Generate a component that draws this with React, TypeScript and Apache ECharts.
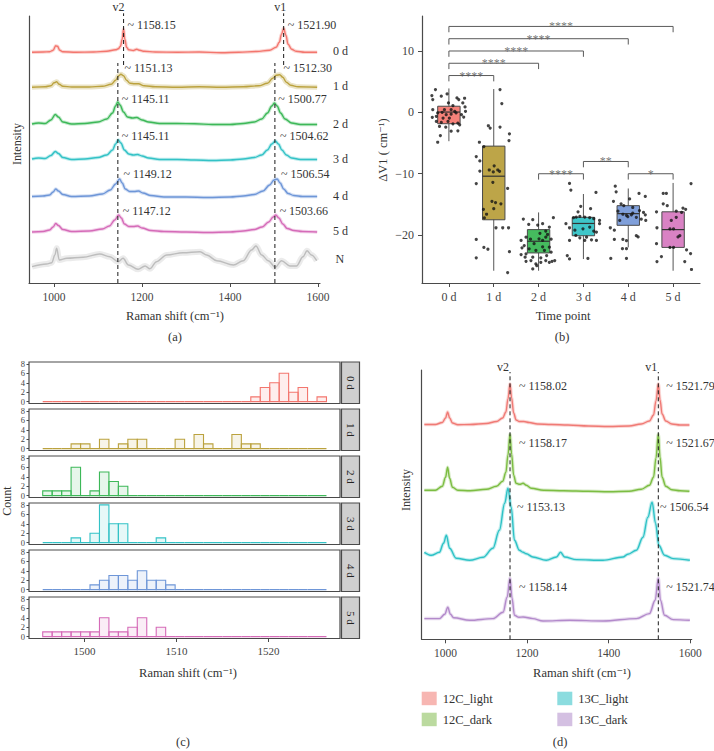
import React, { useEffect, useRef } from 'react';
import * as echarts from 'echarts';

const FONT = "'Liberation Serif', 'DejaVu Serif', 'Times New Roman', serif";
const INK = '#333333';
const AXIS = '#4a4a4a';

// ================= (a) mean Raman spectra per time point =================
const daysA = ['0 d', '1 d', '2 d', '3 d', '4 d', '5 d', 'N'];
const colorsA = ['#F3766E', '#BBA23E', '#3DB858', '#33C2C6', '#6E96D8', '#D56BB8', '#BDBDBD'];
const baselineA = [230.7, 195.7, 158, 123, 86, 51, 18];
const ticksA = [1000, 1200, 1400, 1600];

const spec0d = [[950,0],[975,0.3],[990,0.6],[998,2],[1004,6.5],[1008,6],[1013,2],[1020,0.5],[1050,0],[1090,0.3],[1120,1],[1140,2.5],[1146,3.5],[1151,6],[1155,13],[1158,23.5],[1161,13],[1165,5],[1170,2.5],[1180,1.8],[1188,3],[1195,2],[1205,1],[1230,0.3],[1280,0],[1330,0.3],[1380,-0.5],[1420,0],[1460,0.8],[1490,2],[1505,5],[1512,10],[1517,18],[1522,24],[1527,17],[1532,8],[1540,3],[1550,1],[1570,0],[1598,0]];
const spec1d = [[950,0],[980,0.5],[993,1.5],[1000,4.5],[1006,5.5],[1012,3],[1020,1],[1040,0.3],[1080,0.3],[1110,1],[1130,3],[1140,7],[1147,11.5],[1152,13],[1158,11.5],[1165,7],[1173,4],[1183,3.5],[1192,3.5],[1205,1.5],[1230,0.5],[1280,0],[1330,0.5],[1380,0],[1430,0.5],[1465,1.5],[1485,4],[1497,9],[1505,12],[1513,12.5],[1520,10],[1528,5],[1538,2],[1555,0.5],[1598,0]];
const spec2d = [[950,1],[965,2],[980,1.5],[993,5],[1003,10.5],[1010,8],[1020,3],[1040,1],[1070,1.5],[1100,3],[1120,6],[1133,12],[1140,19],[1145,23],[1150,20],[1158,13],[1167,8],[1178,7],[1188,7.5],[1200,5],[1215,3],[1240,1.5],[1280,1.5],[1320,1.2],[1360,0.5],[1400,0.5],[1430,1.5],[1455,3],[1472,6],[1485,12],[1495,19],[1501,22],[1507,19],[1515,12],[1525,6],[1540,2],[1560,0.5],[1598,0.5]];
const spec3d = [[950,1],[965,2],[980,1.5],[993,4.5],[1003,8.5],[1010,6.5],[1020,2.5],[1040,0.5],[1070,1],[1100,2.5],[1120,5],[1133,10],[1140,16],[1146,20],[1152,17],[1160,10],[1170,6],[1180,5],[1190,5.5],[1200,4],[1215,2],[1240,0.5],[1280,0.5],[1320,0],[1360,-0.5],[1400,0],[1430,1],[1455,2.5],[1472,5],[1485,10],[1495,16],[1503,19],[1510,16],[1518,10],[1528,5],[1540,2],[1560,0.5],[1598,0.5]];
const spec4d = [[950,0.5],[975,1],[990,2],[998,5],[1004,8],[1010,6],[1020,2.5],[1040,0.5],[1080,1],[1110,3],[1128,7],[1140,13],[1149,18],[1155,14],[1162,8],[1172,5.5],[1182,5.5],[1192,6],[1202,4],[1220,1.5],[1250,0],[1300,0],[1350,-0.5],[1400,0],[1430,1],[1455,2.5],[1475,6],[1490,12],[1500,17],[1507,18],[1514,14],[1522,8],[1532,3.5],[1545,1.5],[1565,0.5],[1598,0.5]];
const spec5d = [[950,0],[975,0.5],[990,2],[998,5],[1004,8.5],[1010,6.5],[1020,2.5],[1040,0.5],[1080,1],[1110,3],[1126,6],[1138,12],[1147,17],[1153,14],[1160,8],[1170,5.5],[1180,5.5],[1190,6],[1200,4],[1220,1.5],[1250,0.5],[1300,0],[1350,-0.5],[1400,0],[1430,1],[1455,2.5],[1473,5],[1488,10],[1498,15],[1504,17],[1511,14],[1520,8],[1530,3.5],[1545,1.5],[1565,0.5],[1598,0]];
const specN = [[950,-1.7],[983,1],[995,2.3],[1002,10],[1006,16.7],[1012,5],[1029,6.7],[1066,7.7],[1104,11],[1127,8.3],[1146,3.3],[1157,6.7],[1169,0],[1191,-4.3],[1207,-1],[1218,-3.7],[1233,3.3],[1256,10],[1293,12.3],[1332,13.3],[1347,10],[1370,4.3],[1408,0],[1430,4.3],[1449,15],[1459,19],[1472,10],[1487,4.3],[1503,-2.3],[1517,4.3],[1536,-1],[1551,-1],[1566,8.3],[1575,14.3],[1585,10],[1597,4.3]];
const specA = [spec0d, spec1d, spec2d, spec3d, spec4d, spec5d, specN];

const v2PeakA = [1158.15, 1151.13, 1145.11, 1145.11, 1149.12, 1147.12];
const v1PeakA = [1521.90, 1512.30, 1500.77, 1504.62, 1506.54, 1503.66];
const labelLevelA = [258, 215, 184, 147, 109, 72];

// ================= (b) ΔV1 by time point =================
const daysB = ['0 d', '1 d', '2 d', '3 d', '4 d', '5 d'];
const boxColorsB = ['#F7827A', '#BDA548', '#45BB5E', '#3FC6C9', '#7F9FDA', '#D982C4'];
// [lower whisker, Q1, median, Q3, upper whisker]
const boxStatsB = [
  [-4.7, -1.85, 0.05, 1.0, 3.9],
  [-25.8, -17.5, -10.4, -5.5, 3.8],
  [-25.8, -22.9, -21.0, -19.1, -16.3],
  [-23.9, -20.1, -18.1, -17.1, -13.3],
  [-22.0, -18.4, -16.5, -15.2, -12.4],
  [-25.8, -22.0, -19.1, -16.2, -11.5],
];
const ticksB = [-20, -10, 0, 10];
const jit0d = [[-0.30,3.72],[-0.38,2.74],[-0.17,2.63],[-0.36,2.08],[-0.04,3.01],[0.18,2.35],[0.35,2.30],[0.31,1.53],[-0.01,1.53],[0.09,1.10],[-0.10,0.44],[-0.36,0.44],[-0.37,-0.81],[-0.28,-1.47],[-0.17,-1.64],[-0.02,-1.47],[0.09,-1.86],[0.20,-1.75],[0.33,-0.76],[0.37,0.17],[0.36,0.88],[-0.21,-2.30],[-0.07,-2.41],[0.05,-3.06],[0.20,-3.00],[-0.19,-3.78],[-0.25,-4.87],[0.24,-2.03],[0.05,0.44],[0.13,0.17],[-0.06,-0.37],[-0.13,-0.92],[0.16,-0.10],[0.28,-0.37],[-0.28,-0.65],[0.01,-0.92],[0.22,2.08],[-0.25,-0.10],[-0.15,0.00],[0.05,-0.30]];
const jit1d = [[0.14,3.72],[0.18,1.43],[-0.12,-2.18],[-0.08,-2.56],[0.14,-2.40],[0.35,-3.50],[0.34,-4.60],[-0.32,-4.87],[-0.22,-5.57],[-0.39,-7.20],[-0.31,-7.92],[-0.31,-9.56],[-0.10,-9.39],[-0.01,-9.70],[0.09,-9.39],[0.13,-9.60],[0.01,-8.70],[-0.02,-11.40],[0.31,-12.40],[-0.04,-14.50],[0.04,-14.70],[0.16,-14.90],[0.00,-15.70],[-0.23,-15.80],[-0.16,-16.60],[-0.21,-17.20],[0.05,-18.80],[0.20,-18.80],[0.33,-18.80],[-0.39,-20.70],[-0.22,-22.00],[-0.13,-22.30],[0.35,-22.70],[-0.39,-23.70],[0.31,-26.10],[-0.39,-11.60]];
const jit2d = [[-0.34,-17.38],[-0.13,-17.48],[-0.22,-18.25],[-0.02,-18.36],[0.09,-18.14],[0.24,-18.69],[0.33,-17.16],[0.16,-19.34],[-0.39,-20.87],[-0.28,-20.33],[-0.18,-20.66],[0.01,-20.60],[0.16,-20.33],[-0.10,-21.40],[0.09,-20.87],[0.28,-20.66],[-0.37,-22.07],[-0.28,-23.05],[-0.21,-22.23],[-0.06,-22.50],[0.13,-22.50],[0.24,-21.97],[-0.39,-23.16],[-0.30,-23.60],[-0.13,-23.60],[0.05,-23.70],[0.18,-23.33],[0.28,-22.78],[-0.28,-24.26],[-0.17,-24.15],[-0.06,-24.70],[0.05,-24.43],[0.16,-24.15],[0.36,-24.15],[-0.13,-25.50],[-0.04,-24.97],[0.24,-24.43],[0.30,-24.26],[0.03,-19.70],[0.20,-19.90],[-0.32,-21.70],[0.09,-21.90]];
const jit3d = [[-0.31,-11.57],[-0.28,-12.66],[0.28,-13.05],[-0.06,-15.30],[-0.22,-17.16],[-0.16,-17.05],[-0.08,-16.94],[0.03,-17.05],[0.14,-17.16],[0.23,-17.32],[0.36,-17.60],[0.36,-18.14],[-0.39,-18.14],[-0.31,-18.80],[-0.19,-19.20],[-0.01,-18.97],[0.14,-18.69],[0.23,-19.34],[-0.31,-20.87],[-0.17,-20.05],[0.07,-20.33],[0.18,-20.77],[0.29,-20.87],[0.29,-19.50],[-0.36,-23.33],[-0.31,-23.87],[0.10,-23.80],[0.03,-20.87],[-0.08,-20.44],[-0.12,-16.20],[0.16,-15.70]];
const jit4d = [[-0.29,-12.02],[-0.27,-12.95],[0.24,-13.20],[0.38,-13.70],[0.03,-14.10],[-0.33,-14.50],[-0.16,-14.90],[-0.10,-15.20],[0.10,-15.50],[0.25,-16.00],[0.34,-16.30],[0.38,-16.70],[-0.23,-16.10],[-0.12,-16.60],[-0.04,-16.80],[0.07,-16.70],[0.18,-17.10],[0.29,-17.40],[0.39,-17.60],[-0.19,-17.60],[-0.40,-18.80],[-0.31,-19.20],[0.18,-20.10],[0.22,-20.30],[-0.12,-20.70],[-0.31,-20.70],[-0.04,-20.90],[-0.13,-22.20],[-0.04,-22.20],[-0.39,-23.80],[-0.04,-23.80],[0.10,-16.40],[-0.01,-17.00]];
const jit5d = [[-0.22,-13.20],[-0.15,-13.20],[-0.22,-14.90],[-0.13,-15.20],[0.22,-15.60],[-0.37,-16.20],[0.07,-16.10],[0.19,-16.30],[0.28,-15.80],[0.40,-11.60],[-0.04,-17.60],[0.07,-17.10],[-0.36,-18.80],[-0.07,-19.00],[0.01,-19.00],[0.15,-20.10],[0.11,-20.30],[-0.37,-21.40],[-0.07,-22.00],[0.01,-22.00],[0.30,-22.40],[0.39,-23.00],[-0.26,-23.50],[-0.36,-24.30],[0.26,-24.30],[0.41,-25.60]];
const jitB = [jit0d, jit1d, jit2d, jit3d, jit4d, jit5d];
// significance brackets: [group a, group b, height]
const sigPairsB = [[0, 1, 6], [0, 2, 8], [0, 3, 10], [0, 4, 12], [0, 5, 14], [2, 3, -10], [3, 4, -8], [4, 5, -10]];
const sigLabelsB = ['****', '****', '****', '****', '****', '****', '**', '*'];

// ================= (c) histograms of v1 position =================
const daysC = ['0 d', '1 d', '2 d', '3 d', '4 d', '5 d'];
const binStartC = 1495.47;
const binWidthC = 1.028;
const ticksC = [1500, 1510, 1520];
const countTicksC = [0, 2, 4, 6, 8];
const hist0d = [0,0,0,0,0,0,0,0,0,0, 0,0,0,0,0,0,0,0,0,0, 0,0,1,3,4,6,2,3,0,1];
const hist1d = [0,0,0,1,1,0,2,0,1,2, 2,0,0,0,2,0,3,1,0,0, 3,1,1,0,0,0,0,0,0,0];
const hist2d = [1,1,1,6,0,1,5,3,2,0, 0,0,0,0,0,0,0,0,0,0, 0,0,0,0,0,0,0,0,0,0];
const hist3d = [0,0,0,1,0,2,8,4,4,0, 0,0,1,0,0,0,0,0,0,0, 0,0,0,0,0,0,0,0,0,0];
const hist4d = [0,0,0,0,0,1,2,3,3,2, 4,2,2,1,0,0,0,0,0,0, 0,0,0,0,0,0,0,0,0,0];
const hist5d = [1,1,1,1,1,1,4,1,1,2, 4,0,2,0,0,0,0,0,0,0, 0,0,0,0,0,0,0,0,0,0];
const histC = [hist0d, hist1d, hist2d, hist3d, hist4d, hist5d];

// ================= (d) 12C / 13C light / dark spectra =================
const groupsD = ['12C_light', '12C_dark', '13C_light', '13C_dark'];
const colorsD = ['#F07A75', '#7CBD42', '#2DC2C6', '#B38ACB'];
const legendColorsD = ['#F7B6B2', '#BBDA9F', '#8BDCDF', '#D4C0E2'];
const baselineD = [214.3, 148, 79, 19];
const ticksD = [1000, 1200, 1400, 1600];
const spec12CL = [[948,0.5],[975,0.5],[992,2.5],[1000,7],[1005,13],[1010,7],[1017,2],[1030,0.3],[1060,0.5],[1100,1.5],[1125,3.5],[1140,7],[1148,13],[1153,26],[1158,41],[1162,27],[1167,12],[1173,5],[1181,3.5],[1192,3.5],[1205,2.5],[1225,1],[1260,0.5],[1300,0],[1350,-1],[1400,-1.5],[1450,-1],[1480,1],[1500,4],[1510,10],[1516,24],[1521.8,41],[1526,25],[1531,11],[1540,4],[1555,1],[1575,0],[1598,0]];
const spec12CD = [[948,1],[975,1],[992,5],[1000,14],[1005,24],[1010,13],[1017,4],[1030,1],[1060,0.5],[1100,2],[1125,5],[1140,10],[1148,19],[1153,36],[1158,57],[1162,37],[1167,16],[1173,8],[1182,7],[1190,8],[1198,6],[1210,3],[1240,1],[1290,0.5],[1350,0],[1400,-0.5],[1450,0],[1480,2],[1500,6],[1510,14],[1516,33],[1521.7,57],[1526,34],[1531,14],[1540,5],[1555,1.5],[1575,0.5],[1598,0]];
const spec13CL = [[948,8],[965,5],[985,8],[995,17],[1002,25],[1010,12],[1026,2],[1059,0],[1092,3],[1116,12],[1132,30],[1145,57],[1153,72],[1161,53],[1169,20],[1181,10],[1190,8],[1198,6.5],[1214,3.3],[1247,0],[1272,3.3],[1282,8],[1292,3.3],[1321,0.7],[1386,0],[1435,3.3],[1447,6],[1468,10],[1484,23],[1496,43],[1506.5,58],[1515,37],[1523,15],[1537,5],[1558,1.7],[1599,0]];
const spec13CD = [[948,1.7],[985,1.7],[998,6],[1005.5,13],[1012,6],[1020,2.5],[1059,0],[1116,1.7],[1141,8],[1151,23],[1158,42],[1163,22],[1169,5],[1180,3],[1190,3.3],[1214,1.7],[1239,-0.7],[1304,0],[1386,-0.7],[1468,1.7],[1500,6.7],[1514,20],[1521.7,42],[1527,20],[1537,5],[1558,0.7],[1599,0]];
const specD = [spec12CL, spec12CD, spec13CL, spec13CD];
const v2PeakD = [1158.02, 1158.17, 1153.13, 1158.14];
const v1PeakD = [1521.79, 1521.67, 1506.54, 1521.74];
const labelLevelD = [253.3, 196, 132.6, 52.6];

// ================= helpers =================
function hexA(hex: string, a: number) {
  const n = parseInt(hex.slice(1), 16);
  return `rgba(${(n >> 16) & 255},${(n >> 8) & 255},${n & 255},${a})`;
}

function txtStyle(text: string, size: number, color: string, align: string, vAlign = 'middle') {
  return {
    text, font: `${size}px ${FONT}`, fill: color, textFill: color,
    align, verticalAlign: vAlign, textAlign: align, textVerticalAlign: vAlign,
  };
}

function gText(x: number, y: number, text: string, size = 12, rot = 0, align = 'center', color = INK) {
  return { type: 'text', x, y, rotation: rot, silent: true, z: 20, style: txtStyle(text, size, color, align) };
}

type Lbl = { x: number; y: number; text: string; dx?: number; dy?: number; align?: string; size?: number };
function textSeries(ax: number, items: Lbl[], color = INK) {
  return {
    type: 'custom', xAxisIndex: ax, yAxisIndex: ax, clip: false, silent: true, z: 10,
    data: items.map((it) => [it.x, it.y]),
    renderItem: (params: any, api: any) => {
      const it = items[params.dataIndex];
      const p = api.coord([it.x, it.y]);
      return {
        type: 'text', x: p[0] + (it.dx || 0), y: p[1] + (it.dy || 0),
        style: txtStyle(it.text, it.size || 12, color, it.align || 'left'),
      };
    },
  };
}

function dashSeries(ax: number, segs: number[][]) {
  return {
    type: 'custom', xAxisIndex: ax, yAxisIndex: ax, clip: false, silent: true, z: 6,
    data: segs,
    renderItem: (params: any, api: any) => {
      const s = segs[params.dataIndex];
      const a = api.coord([s[0], s[1]]);
      const b = api.coord([s[0], s[2]]);
      return { type: 'line', shape: { x1: a[0], y1: a[1], x2: b[0], y2: b[1] }, style: { stroke: '#1a1a1a', lineWidth: 1, lineDash: [4, 3] } };
    },
  };
}

function spectrumSeries(ax: number, sp: number[][], base: number, color: string, bandW: number, name?: string) {
  const data = sp.map(([x, h]) => [x, h + base]);
  return [
    { type: 'line', xAxisIndex: ax, yAxisIndex: ax, data, smooth: 0.35, smoothMonotone: 'x', symbol: 'none', silent: true, z: 2,
      lineStyle: { color, width: bandW, opacity: 0.3 } },
    { type: 'line', name, xAxisIndex: ax, yAxisIndex: ax, data, smooth: 0.35, smoothMonotone: 'x', symbol: 'none', silent: true, z: 3,
      lineStyle: { color, width: 1.4 } },
  ];
}

const lineAxis = { show: true, onZero: false, lineStyle: { color: AXIS, width: 1.2 } };
const noAxis = { show: false, onZero: false };
const plain = (v: number) => String(v);
const labelStyle = (size: number, extra: any = {}) => ({ fontFamily: FONT, fontSize: size, color: '#444', formatter: plain, ...extra });

function buildOption() {
  const grid: any[] = [];
  const xAxis: any[] = [];
  const yAxis: any[] = [];
  const series: any[] = [];
  const graphic: any[] = [];

  // ---------- (a) ----------
  grid.push({ left: 29, top: 16, width: 291, height: 267 });
  xAxis.push({ type: 'value', gridIndex: 0, min: 943.2, max: 1604.5, splitLine: { show: false }, axisLine: lineAxis,
    axisTick: { show: true, length: 4, customValues: ticksA, lineStyle: { color: AXIS } },
    axisLabel: { customValues: ticksA, margin: 8, ...labelStyle(11.5) } });
  yAxis.push({ type: 'value', gridIndex: 0, min: 0, max: 267, splitLine: { show: false }, axisLine: lineAxis, axisTick: { show: false }, axisLabel: { show: false } });
  specA.forEach((sp, i) => series.push(...spectrumSeries(0, sp, baselineA[i], colorsA[i], i === 6 ? 6 : i === 1 ? 5 : 3.5)));
  series.push(dashSeries(0, [[v2PeakA[0], 218, 269.7], [v2PeakA[2], 0, 220], [v1PeakA[0], 218, 269.7], [1502, 0, 220]]));
  const lblA: Lbl[] = [
    { x: v2PeakA[0], y: 276, text: 'v2', align: 'right', dx: 1 },
    { x: v1PeakA[0], y: 276, text: 'v1', align: 'right', dx: 2.5 },
  ];
  v2PeakA.forEach((v, i) => {
    lblA.push({ x: v, y: labelLevelA[i], text: '~ ' + v.toFixed(2), dx: 4 });
    lblA.push({ x: v1PeakA[i], y: labelLevelA[i], text: '~ ' + v1PeakA[i].toFixed(2), dx: 4 });
  });
  daysA.forEach((d, i) => lblA.push({ x: 1604.5, y: i === 6 ? 24 : baselineA[i] + 1.5, text: d, dx: i === 6 ? 15.5 : 13 }));
  series.push(textSeries(0, lblA));

  // ---------- (b) ----------
  grid.push({ left: 422, top: 16, width: 278, height: 267 });
  xAxis.push({ type: 'value', gridIndex: 1, min: -0.6, max: 5.6, splitLine: { show: false }, axisLine: lineAxis,
    axisTick: { show: true, length: 4, customValues: [0, 1, 2, 3, 4, 5], lineStyle: { color: AXIS } },
    axisLabel: { customValues: [0, 1, 2, 3, 4, 5], margin: 8, ...labelStyle(12), formatter: (v: number) => daysB[Math.round(v)] } });
  yAxis.push({ type: 'value', gridIndex: 1, min: -27.8, max: 15.7, splitLine: { show: false }, axisLine: lineAxis,
    axisTick: { show: true, length: 4, customValues: ticksB, lineStyle: { color: AXIS } },
    axisLabel: { customValues: ticksB, margin: 8, ...labelStyle(12), formatter: (v: number) => (v < 0 ? '\u2212' + Math.abs(v) : String(v)) } });
  series.push({
    type: 'custom', xAxisIndex: 1, yAxisIndex: 1, silent: true, z: 3,
    data: boxStatsB.map((s, i) => [i, ...s]),
    renderItem: (params: any, api: any) => {
      const i = params.dataIndex;
      const s = boxStatsB[i];
      const c = (v: number) => api.coord([i, v]);
      const pMin = c(s[0]), pQ1 = c(s[1]), pMed = c(s[2]), pQ3 = c(s[3]), pMax = c(s[4]);
      const x = pMed[0];
      const hw = 11.2;
      return {
        type: 'group', children: [
          { type: 'line', shape: { x1: x, y1: pMin[1], x2: x, y2: pMax[1] }, style: { stroke: '#555', lineWidth: 1 } },
          { type: 'rect', shape: { x: x - hw, y: pQ3[1], width: 2 * hw, height: pQ1[1] - pQ3[1] }, style: { fill: boxColorsB[i], stroke: '#4a4a4a', lineWidth: 1 } },
          { type: 'line', shape: { x1: x - hw, y1: pMed[1], x2: x + hw, y2: pMed[1] }, style: { stroke: '#333', lineWidth: 1.2 } },
        ],
      };
    },
  });
  const pts: number[][] = [];
  jitB.forEach((arr, i) => arr.forEach(([o, v]) => pts.push([i + o, v])));
  series.push({ type: 'scatter', xAxisIndex: 1, yAxisIndex: 1, data: pts, symbolSize: 3.2, itemStyle: { color: '#151515' }, silent: true, z: 5 });
  series.push({
    type: 'custom', xAxisIndex: 1, yAxisIndex: 1, clip: false, silent: true, z: 6,
    data: sigPairsB,
    renderItem: (params: any, api: any) => {
      const [a, b, h] = sigPairsB[params.dataIndex];
      const tip = 0.95;
      const p1 = api.coord([a, h - tip]), p2 = api.coord([a, h]), p3 = api.coord([b, h]), p4 = api.coord([b, h - tip]);
      return { type: 'polyline', shape: { points: [p1, p2, p3, p4] }, style: { stroke: '#5a5a5a', lineWidth: 1, fill: 'none' } };
    },
  });
  series.push({
    type: 'scatter', xAxisIndex: 1, yAxisIndex: 1, silent: true, z: 7, symbolSize: 0.01,
    itemStyle: { color: 'rgba(0,0,0,0)' },
    data: sigPairsB.map(([a, b, h], i) => ({
      value: [(a + b) / 2, h],
      label: { show: true, formatter: sigLabelsB[i], position: 'inside', offset: [0, -2.5], color: '#555', fontSize: 12, fontFamily: FONT },
    })),
    label: { show: true, position: 'inside', color: '#555', fontSize: 12, fontFamily: FONT },
    labelLayout: { hideOverlap: false },
  });

  // ---------- (c) ----------
  histC.forEach((counts, k) => {
    const gi = 2 + k;
    const top = 362 + 47 * k;
    const last = k === histC.length - 1;
    const col = colorsA[k];
    grid.push({ left: 29, top, width: 311, height: 41.5, show: true, borderColor: '#4a4a4a', borderWidth: 1.2, backgroundColor: 'transparent' });
    xAxis.push({ type: 'value', gridIndex: gi, min: 1493.98, max: 1527.78, splitLine: { show: false }, axisLine: noAxis,
      axisTick: { show: last, length: 3.5, customValues: ticksC, lineStyle: { color: AXIS } },
      axisLabel: { show: last, customValues: ticksC, margin: 7, ...labelStyle(11) } });
    yAxis.push({ type: 'value', gridIndex: gi, min: -0.4, max: 8.4, splitLine: { show: false }, axisLine: noAxis,
      axisTick: { show: true, length: 2.5, customValues: countTicksC, lineStyle: { color: AXIS } },
      axisLabel: { customValues: countTicksC, margin: 4, ...labelStyle(8.5, { lineHeight: 9 }) } });
    series.push({
      type: 'custom', xAxisIndex: gi, yAxisIndex: gi, silent: true, z: 3,
      data: counts.map((c, i) => [binStartC + (i + 0.5) * binWidthC, c]),
      renderItem: (params: any, api: any) => {
        const i = params.dataIndex;
        const x0 = binStartC + i * binWidthC;
        const p0 = api.coord([x0, 0]);
        const p1 = api.coord([x0 + binWidthC, counts[i]]);
        return { type: 'rect', shape: { x: p0[0], y: p1[1], width: p1[0] - p0[0], height: p0[1] - p1[1] },
          style: { fill: hexA(col, 0.12), stroke: col, lineWidth: 1.1 } };
      },
    });
    graphic.push({ type: 'rect', silent: true, shape: { x: 341.5, y: top, width: 18, height: 41.5 }, style: { fill: '#CFCFCF', stroke: '#4a4a4a', lineWidth: 1.2 } });
    graphic.push(gText(350.5, top + 20.75, daysC[k], 11, -Math.PI / 2, 'center', '#222'));
  });

  // ---------- (d) ----------
  const gD = 8;
  grid.push({ left: 421.7, top: 370, width: 270, height: 269.3 });
  xAxis.push({ type: 'value', gridIndex: gD, min: 941.5, max: 1603.6, splitLine: { show: false }, axisLine: lineAxis,
    axisTick: { show: true, length: 4, customValues: ticksD, lineStyle: { color: AXIS } },
    axisLabel: { customValues: ticksD, margin: 8, ...labelStyle(11.5) } });
  yAxis.push({ type: 'value', gridIndex: gD, min: 0, max: 269.3, splitLine: { show: false }, axisLine: lineAxis, axisTick: { show: false }, axisLabel: { show: false } });
  specD.forEach((sp, i) => series.push(...spectrumSeries(gD, sp, baselineD[i], colorsD[i], 3.5, groupsD[i])));
  series.push(dashSeries(gD, [[1158.1, 0, 267.3], [1521.7, 0, 267.3]]));
  const lblD: Lbl[] = [
    { x: 1158.1, y: 272.3, text: 'v2', align: 'right', dx: -1 },
    { x: 1521.7, y: 272.3, text: 'v1', align: 'right', dx: -1 },
  ];
  v2PeakD.forEach((v, i) => {
    lblD.push({ x: v, y: labelLevelD[i], text: '~ ' + v.toFixed(2), dx: 9 });
    lblD.push({ x: v1PeakD[i], y: labelLevelD[i], text: '~ ' + v1PeakD[i].toFixed(2), dx: 8 });
  });
  series.push(textSeries(gD, lblD));

  // legend of (d)
  const legPos = [[421.7, 691.7], [421.7, 712.7], [557.3, 691.7], [557.3, 712.7]];
  groupsD.forEach((g, i) => {
    const [lx, ly] = legPos[i];
    graphic.push({ type: 'rect', silent: true, shape: { x: lx, y: ly, width: 15, height: 13.5 }, style: { fill: legendColorsD[i] } });
    graphic.push(gText(lx + 21, ly + 6.8, g, 12.5, 0, 'left'));
  });

  // titles / axis names / panel letters
  graphic.push(gText(17, 144, 'Intensity', 12, Math.PI / 2));
  graphic.push(gText(175, 316, 'Raman shift (cm\u207B\u00B9)', 12.5));
  graphic.push(gText(175, 337, '(a)', 12.5));
  graphic.push(gText(383, 150, '\u0394V1 ( cm\u207B\u00B9)', 12.5, Math.PI / 2));
  graphic.push(gText(563, 316, 'Time point', 12.5));
  graphic.push(gText(562, 337, '(b)', 12.5));
  graphic.push(gText(7, 501, 'Count', 12, Math.PI / 2));
  graphic.push(gText(188, 673, 'Raman shift (cm\u207B\u00B9)', 12.5));
  graphic.push(gText(183, 742, '(c)', 12.5));
  graphic.push(gText(406, 490, 'Intensity', 12, Math.PI / 2));
  graphic.push(gText(582, 673, 'Raman shift (cm\u207B\u00B9)', 12.5));
  graphic.push(gText(560, 742, '(d)', 12.5));

  return { animation: false, textStyle: { fontFamily: FONT }, grid, xAxis, yAxis, series, graphic };
}

export default function App() {
  const ref = useRef<HTMLDivElement>(null);
  useEffect(() => {
    const chart = echarts.init(ref.current as HTMLDivElement, null, { renderer: 'svg' });
    chart.setOption(buildOption() as any);
    return () => chart.dispose();
  }, []);
  return <div ref={ref} style={{ position: 'absolute', left: 0, top: 0, width: 714, height: 751, background: '#fff' }} />;
}
